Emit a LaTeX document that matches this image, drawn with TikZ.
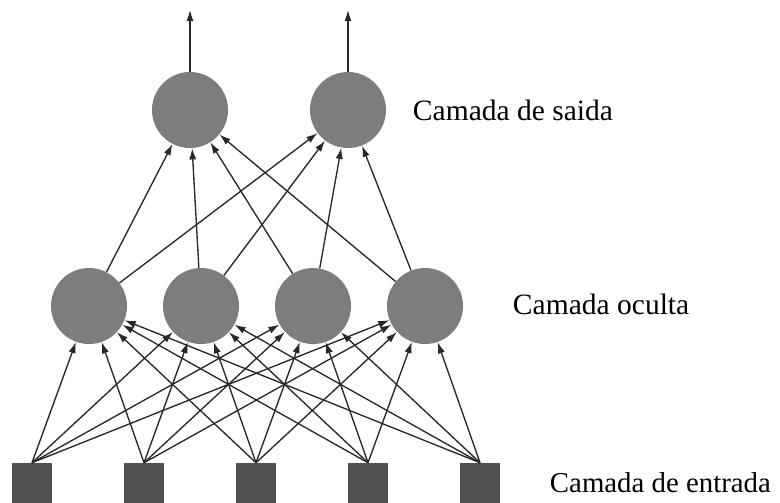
\documentclass[tikz,border=0pt]{standalone}
\usepackage{fontspec}
\setmainfont{Liberation Serif}
\usetikzlibrary{positioning}
\usetikzlibrary{arrows.meta}
\usepackage{color}
\definecolor{neurongray}{RGB}{125,125,125}
\definecolor{inputgray}{RGB}{80,80,80}
\definecolor{wiregray}{RGB}{40,40,40}
\newcommand{\gapunit}{112}
\newcommand{\sizeneuron}{1.9cm}
\newcommand{\sizeinput}{0.98cm}
\tikzset{
    neuron/.style={circle, fill=neurongray, minimum size=\sizeneuron, inner sep=0pt},
    inputbox/.style={rectangle, fill=inputgray, minimum width=\sizeinput, minimum height=1.1cm, inner sep=0pt},
    conn/.style={-{Latex[length=2.8mm, width=1.8mm]}, draw=wiregray, fill=wiregray, line width=0.95pt},
    layer/.style={anchor=west, font=\fontsize{21}{25}\selectfont},
}

\begin{document}
\begin{tikzpicture}[x=0.025cm, y=-0.025cm]
          \useasboundingbox (0,0) rectangle (780,502);

          % output layer
          \path
              (190,110) node[neuron] (o1) {}
              to ++(158,0) node[neuron] (o2) {};
          \coordinate (o1-out) at (190,10);
          \coordinate (o2-out) at (348,10);
          \node[layer] (saida) at (408,110) {Camada de saida};

          % hidden layer
          \path
              (89,306) node[neuron] (h1) {}
              to ++(\gapunit,0) node[neuron] (h2) {}
              to ++(\gapunit,0) node[neuron] (h3) {}
              to ++(\gapunit,0) node[neuron] (h4) {};
          \node[layer] (oculta) at (508,304) {Camada oculta};

          % input layer
          \path
              (32,485) node[inputbox] (i1) {}
              to ++(\gapunit,0) node[inputbox] (i2) {}
              to ++(\gapunit,0) node[inputbox] (i3) {}
              to ++(\gapunit,0) node[inputbox] (i4) {}
              to ++(\gapunit,0) node[inputbox] (i5) {};
          \node[layer, font=\fontsize{20.5}{25}\selectfont] (entrada) at (545,483) {Camada de entrada};

          \draw[conn] (i1.north) -- (h1); \draw[conn] (i1.north) -- (h2); \draw[conn] (i1.north) -- (h3); \draw[conn] (i1.north) -- (h4);
          \draw[conn] (i2.north) -- (h1); \draw[conn] (i2.north) -- (h2); \draw[conn] (i2.north) -- (h3); \draw[conn] (i2.north) -- (h4);
          \draw[conn] (i3.north) -- (h1); \draw[conn] (i3.north) -- (h2); \draw[conn] (i3.north) -- (h3); \draw[conn] (i3.north) -- (h4);
          \draw[conn] (i4.north) -- (h1); \draw[conn] (i4.north) -- (h2); \draw[conn] (i4.north) -- (h3); \draw[conn] (i4.north) -- (h4);
          \draw[conn] (i5.north) -- (h1); \draw[conn] (i5.north) -- (h2); \draw[conn] (i5.north) -- (h3); \draw[conn] (i5.north) -- (h4);

          \draw[conn] (h1) -- (o1); \draw[conn] (h1) -- (o2);
          \draw[conn] (h2) -- (o1); \draw[conn] (h2) -- (o2);
          \draw[conn] (h3) -- (o1); \draw[conn] (h3) -- (o2);
          \draw[conn] (h4) -- (o1); \draw[conn] (h4) -- (o2);

          \draw[conn] (o1) -- (o1-out);
          \draw[conn] (o2) -- (o2-out);

      \end{tikzpicture}
\end{document}
